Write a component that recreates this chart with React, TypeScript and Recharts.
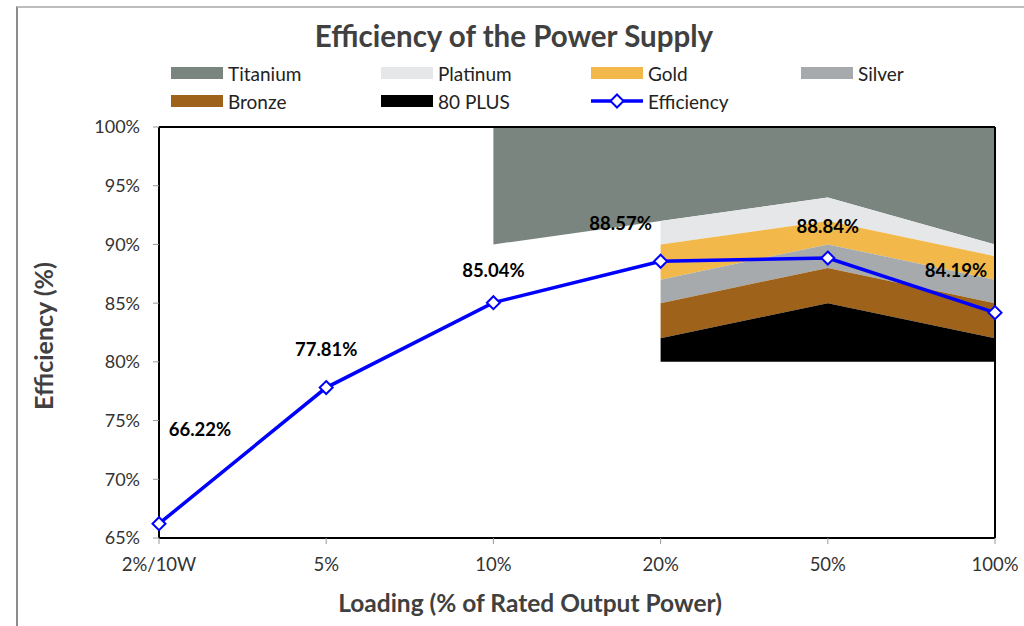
import React from 'react';
import { ComposedChart, Area, Line, XAxis, YAxis, ReferenceLine, LabelList } from 'recharts';

// Categories (x axis)
const categories = ['2%/10W', '5%', '10%', '20%', '50%', '100%'];
// Measured efficiency (%)
const efficiency = [66.22, 77.81, 85.04, 88.57, 88.84, 84.19];
// Lower boundary of each 80 PLUS band (%), null = band not defined
const titaniumMin = [null, null, 90, 92, 94, 90];
const platinumMin = [null, null, null, 90, 92, 89];
const goldMin = [null, null, null, 87, 90, 87];
const silverMin = [null, null, null, 85, 88, 85];
const bronzeMin = [null, null, null, 82, 85, 82];
const plus80Min = [null, null, null, 80, 80, 80];
const ceiling = 100;
// Y ticks
const yTicks = [65, 70, 75, 80, 85, 90, 95, 100];

const bandNames = ['Titanium', 'Platinum', 'Gold', 'Silver', 'Bronze', '80 PLUS'];
const bandColors: Record<string, string> = {
  Titanium: '#7A8580',
  Platinum: '#E6E7E8',
  Gold: '#F2B94A',
  Silver: '#A6AAAC',
  Bronze: '#9E621A',
  '80 PLUS': '#000000',
};

const range = (lo: number | null, hi: number | null) => (lo == null || hi == null ? null : [lo, hi]);

const data = categories.map((c, i) => ({
  name: c,
  efficiency: efficiency[i],
  Titanium: range(titaniumMin[i], ceiling),
  Platinum: range(platinumMin[i], titaniumMin[i]),
  Gold: range(goldMin[i], platinumMin[i]),
  Silver: range(silverMin[i], goldMin[i]),
  Bronze: range(bronzeMin[i], silverMin[i]),
  '80 PLUS': range(plus80Min[i], bronzeMin[i]),
}));

// label offsets relative to each point (styling)
const labelOffsets = [
  [41, -95],
  [0, -39],
  [0, -33],
  [-40, -38],
  [0, -32],
  [-39, -43],
];

const FONT = 'Lato, "Open Sans", sans-serif';
const TEXT = '#404040';
const BLUE = '#0000FF';

const Diamond = (props: any) => {
  const { cx, cy } = props;
  if (cx == null || cy == null) return null;
  const r = 6.5;
  return (
    <path
      d={`M${cx},${cy - r}L${cx + r},${cy}L${cx},${cy + r}L${cx - r},${cy}Z`}
      fill="#fff"
      stroke={BLUE}
      strokeWidth={2}
    />
  );
};

const ValueLabel = (props: any) => {
  const { x, y, value, index } = props;
  const off = labelOffsets[index] || [0, -30];
  return (
    <text
      x={x + off[0]}
      y={y + off[1]}
      textAnchor="middle"
      dominantBaseline="central"
      fontFamily={FONT}
      fontWeight={700}
      fontSize={18.5}
      fill="#000"
    >
      {`${Number(value).toFixed(2)}%`}
    </text>
  );
};

const legendItems = [
  { name: 'Titanium', kind: 'area' },
  { name: 'Platinum', kind: 'area' },
  { name: 'Gold', kind: 'area' },
  { name: 'Silver', kind: 'area' },
  { name: 'Bronze', kind: 'area' },
  { name: '80 PLUS', kind: 'area' },
  { name: 'Efficiency', kind: 'line' },
];

export default function App() {
  return (
    <div
      style={{
        position: 'absolute',
        left: 0,
        top: 0,
        width: 1024,
        height: 626,
        overflow: 'hidden',
        background: '#fff',
        fontFamily: FONT,
      }}
    >
      <div
        style={{
          position: 'absolute',
          left: 16,
          top: 6,
          width: 1200,
          height: 800,
          borderTop: '2px solid #bdbdbd',
          borderLeft: '2px solid #8c8c8c',
        }}
      />
      <div
        style={{
          position: 'absolute',
          left: 0,
          top: 16,
          width: 1028,
          textAlign: 'center',
          fontSize: 29.5,
          fontWeight: 700,
          color: TEXT,
          lineHeight: '40px',
        }}
      >
        Efficiency of the Power Supply
      </div>
      {legendItems.map((it, i) => {
        const col = i % 4;
        const row = Math.floor(i / 4);
        const left = 171 + col * 210;
        const top = 73 + row * 28;
        return (
          <div key={it.name} style={{ position: 'absolute', left, top: top - 12, height: 24, display: 'flex', alignItems: 'center' }}>
            <svg width={56} height={24} style={{ display: 'block' }}>
              {it.kind === 'area' ? (
                <rect x={0} y={6} width={52} height={12} fill={bandColors[it.name]} />
              ) : (
                <g>
                  <line x1={0} y1={12} x2={52} y2={12} stroke={BLUE} strokeWidth={3.5} />
                  <Diamond cx={26} cy={12} />
                </g>
              )}
            </svg>
            <span style={{ fontSize: 19, color: '#222', marginLeft: 1 }}>{it.name}</span>
          </div>
        );
      })}
      <div
        style={{
          position: 'absolute',
          left: 43,
          top: 336,
          transform: 'translate(-50%, -50%) rotate(-90deg)',
          whiteSpace: 'nowrap',
          fontSize: 25,
          fontWeight: 700,
          color: TEXT,
        }}
      >
        Efficiency (%)
      </div>
      <div
        style={{
          position: 'absolute',
          left: 0,
          top: 588,
          width: 1060,
          textAlign: 'center',
          fontSize: 24.5,
          fontWeight: 700,
          color: TEXT,
          lineHeight: '30px',
        }}
      >
        Loading (% of Rated Output Power)
      </div>
      <div style={{ position: 'absolute', left: 0, top: 0 }}>
        <ComposedChart
          width={1024}
          height={626}
          data={data}
          margin={{ top: 127, right: 29, bottom: 58, left: 99 }}
        >
          <XAxis
            dataKey="name"
            scale="point"
            padding={{ left: 0, right: 0 }}
            height={30}
            axisLine={{ stroke: '#000', strokeWidth: 2 }}
            tickLine={{ stroke: '#999' }}
            tickSize={6}
            tickMargin={14}
            tick={{ fontFamily: FONT, fontSize: 18.5, fill: '#333' }}
            interval={0}
          />
          <YAxis
            domain={[65, 100]}
            ticks={yTicks}
            allowDataOverflow
            width={60}
            axisLine={{ stroke: '#000', strokeWidth: 2 }}
            tickLine={{ stroke: '#999' }}
            tickSize={6}
            tickMargin={13}
            tickFormatter={(v: number) => `${v}%`}
            tick={{ fontFamily: FONT, fontSize: 18, fill: '#333' }}
          />
          {bandNames.map((b) => (
            <Area
              key={b}
              dataKey={b}
              type="linear"
              stroke="none"
              fill={bandColors[b]}
              fillOpacity={1}
              isAnimationActive={false}
              connectNulls={false}
              activeDot={false}
            />
          ))}
          <ReferenceLine y={100} stroke="#000" strokeWidth={2} />
          <ReferenceLine x="100%" stroke="#000" strokeWidth={2} />
          <Line
            dataKey="efficiency"
            type="linear"
            stroke={BLUE}
            strokeWidth={3.5}
            dot={<Diamond />}
            activeDot={false}
            isAnimationActive={false}
          >
            <LabelList dataKey="efficiency" content={<ValueLabel />} />
          </Line>
        </ComposedChart>
      </div>
    </div>
  );
}
